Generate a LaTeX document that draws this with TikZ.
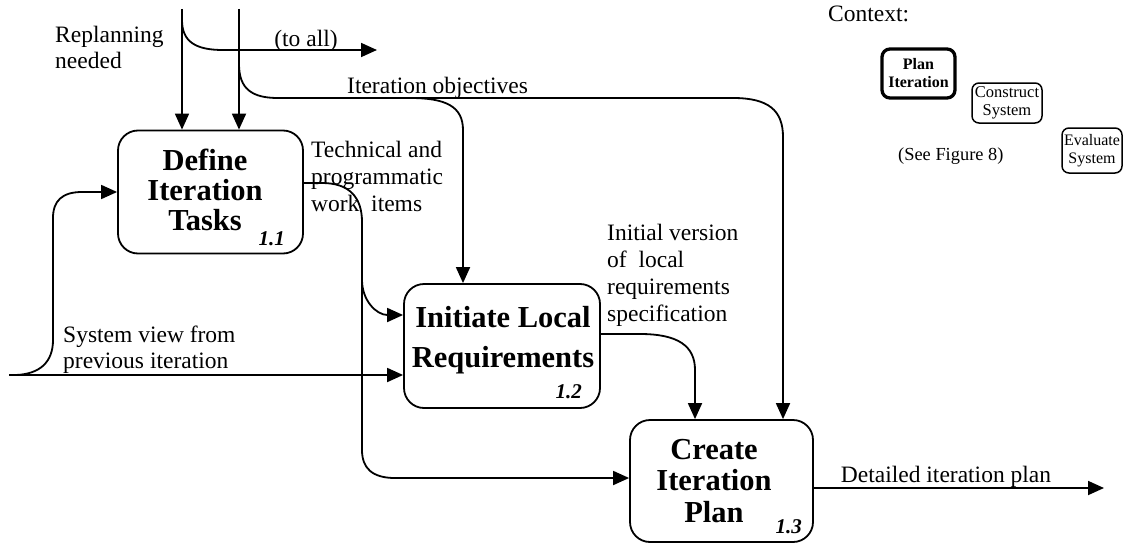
\documentclass[tikz,border=0pt]{standalone}
\usepackage{fontspec}
\setmainfont{Liberation Serif}
\usetikzlibrary{arrows.meta}
\begin{document}
\begin{tikzpicture}[x=1pt,y=-1pt,
  flow/.style={line width=1.8pt, -{Triangle[length=16pt,width=14pt]}},
  plain/.style={line width=1.8pt},
  proc/.style={draw, line width=1.8pt, rounded corners=20pt, inner sep=0pt},
  lbl/.style={font=\fontsize{23.5}{27}\selectfont, inner sep=0pt, align=left},
  ptitle/.style={font=\fontsize{30.5}{30}\selectfont\bfseries, inner sep=0pt, align=center},
  pnum/.style={font=\fontsize{21}{21}\selectfont\bfseries\itshape, inner sep=0pt},
  ctxbox/.style={draw, line width=1.5pt, rounded corners=7pt, inner sep=0pt, align=center, font=\fontsize{16}{18}\selectfont}
]
\useasboundingbox (0,0) rectangle (1123,543);

% process boxes
\node[proc, minimum width=185pt, minimum height=123pt] (t11) at (210.5,192) {};
\node[proc, minimum width=196pt, minimum height=124pt] (t12) at (502,346) {};
\node[proc, minimum width=183pt, minimum height=122pt] (t13) at (721.5,481) {};

% titles
\node[ptitle, anchor=north] (t11t) at (205,149) {Define\\Iteration\\Tasks};
\node[ptitle, anchor=north, font=\fontsize{30.5}{40}\selectfont\bfseries] (t12t) at (503,306) {Initiate Local\\Requirements};
\node[ptitle, anchor=north, font=\fontsize{30.5}{31.5}\selectfont\bfseries] (t13t) at (714,439) {Create\\Iteration\\Plan};
\node[pnum, anchor=base east] (t11n) at (285,245) {1.1};
\node[pnum, anchor=base east] (t12n) at (582,398) {1.2};
\node[pnum, anchor=base east] (t13n) at (802,533) {1.3};

% coordinates
\coordinate (a0) at (182,9);
\coordinate (a1) at (182,20);
\coordinate (toall) at (377,50);
\coordinate (b0) at (239,9);
\coordinate (b1) at (239,64);
\coordinate (r1) at (783,137);
\coordinate (io) at (410,98);
\coordinate (m1) at (463,130);
\coordinate (sv) at (9,375);
\coordinate (sv1) at (16,375);
\coordinate (o11) at (0,183);
\coordinate (tb) at (362,280);
\coordinate (i12) at (0,315);
\coordinate (o12) at (0,334);
\coordinate (d1) at (695,370);
\coordinate (i13) at (0,478);
\coordinate (dip) at (1104,488);

% connectors
\draw[flow] (a0) -- (a0 |- t11.north);
\draw[flow] (a1) .. controls (182,42) and (196,50) .. (223,50) -- (toall);
\draw[flow] (b0) -- (b0 |- t11.north);
\draw[flow] (b1) .. controls (239,89) and (252,98) .. (278,98) -- (733,98)
  .. controls (768,98) and (783,110) .. (r1) -- (r1 |- t13.north);
\draw[flow] (io) .. controls (445,98) and (463,106) .. (m1) -- (m1 |- t12.north);
\draw[flow] (sv) -- (sv -| t12.west);
\draw[flow] (sv1) .. controls (40,374) and (53,362) .. (53,340) -- (53,218)
  .. controls (53,201) and (62,192) .. (82,192) -- (t11.west);
\draw[flow] (t11.east |- o11) -- (322,183) .. controls (350,183) and (362,198) .. (362,222)
  -- (362,450) .. controls (362,468) and (372,478) .. (395,478) -- (t13.west |- i13);
\draw[flow] (tb) .. controls (362,300) and (376,315) .. (t12.west |- i12);
\draw[flow] (t12.east |- o12) -- (640,334) .. controls (678,334) and (695,346) .. (d1) -- (d1 |- t13.north);
\draw[flow] (t13.east |- dip) -- (dip);

% labels
\node[lbl, anchor=north west, font=\fontsize{23.5}{26}\selectfont] (rp) at (55,26) {Replanning\\needed};
\node[lbl, anchor=base] (tal) at (306,46) {(to all)};
\node[lbl, anchor=base west] (itobj) at (347,93) {Iteration objectives};
\node[lbl, anchor=north west] (tech) at (311,141) {Technical and\\programmatic\\work\ \ items};
\node[lbl, anchor=north west] (init) at (607,224) {Initial version\\of\ \ local\\requirements\\specification};
\node[lbl, anchor=north west, font=\fontsize{23.5}{26}\selectfont] (svl) at (63,326) {System view from\\previous iteration};
\node[lbl, anchor=base] (dipl) at (946,482) {Detailed iteration plan};

% context panel
\node[lbl, anchor=base west] (ctx) at (828,22) {Context:};
\node[ctxbox, line width=3.3pt, rounded corners=8pt, minimum width=73pt, minimum height=49pt, font=\fontsize{16}{18}\selectfont\bfseries] (cpi) at (918.5,73.5) {Plan\\Iteration};
\node[ctxbox, minimum width=70pt, minimum height=40pt, font=\fontsize{16.5}{18}\selectfont] (ccs) at (1007,103) {Construct\\System};
\node[ctxbox, minimum width=60pt, minimum height=45pt] (ces) at (1092,150.5) {Evaluate\\System};
\node[anchor=base west, inner sep=0pt, font=\fontsize{18.4}{20}\selectfont] (sfig) at (898,160) {(See Figure 8)};
\end{tikzpicture}
\end{document}
